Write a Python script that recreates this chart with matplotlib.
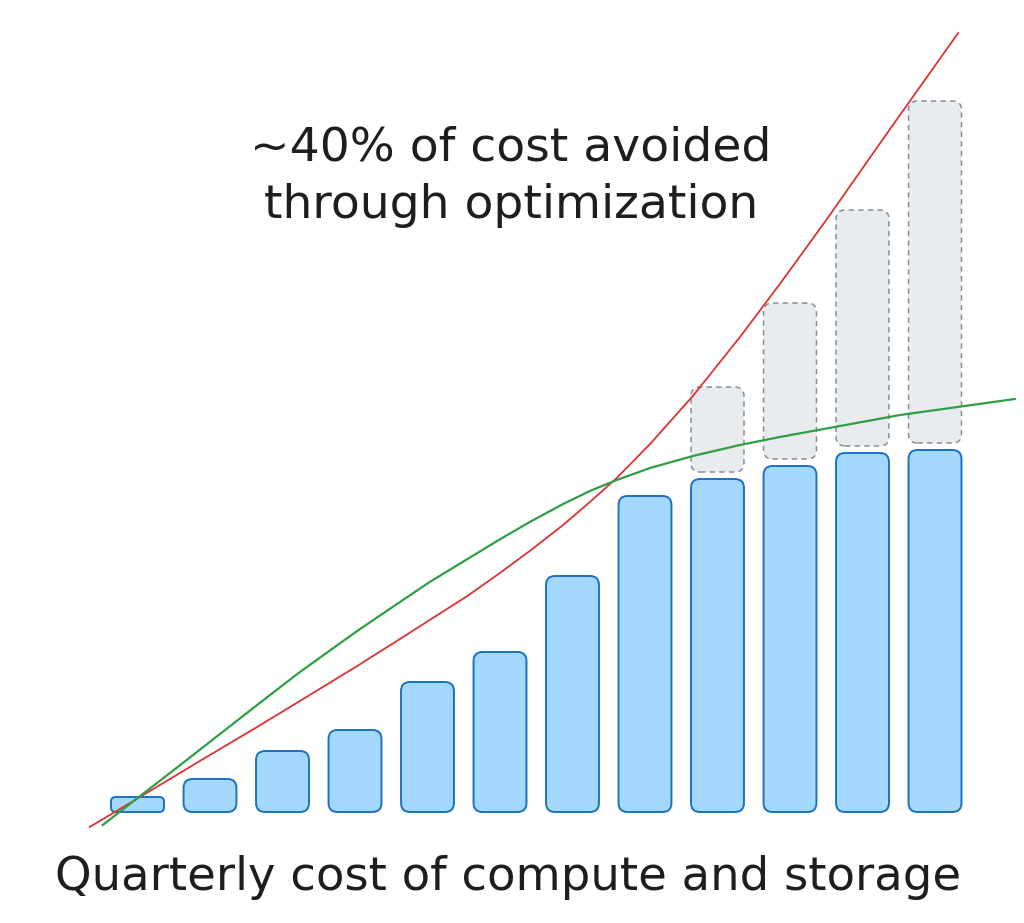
import matplotlib
matplotlib.use("Agg")
import matplotlib.pyplot as plt
from matplotlib.patches import FancyBboxPatch, BoxStyle

# quarterly spend (blue) and cost avoided (grey, last four quarters)
quarters = list(range(12))
spend = [1.5, 3.3, 6.1, 8.2, 13.0, 16.0, 23.6, 31.6, 33.3, 34.6, 35.9, 36.2]
avoided_quarters = [8, 9, 10, 11]
avoided = [8.5, 15.6, 23.6, 34.2]

# projected (unoptimized) trend, red
red_x = [-0.66, 0.08, 0.86, 1.65, 2.24, 3.03, 3.62, 4.03, 4.55, 4.96, 5.41,
         5.87, 6.24, 6.61, 7.07, 7.66, 8.31, 8.86, 9.51, 10.38, 11.32]
red_y = [-1.5, 1.7, 5.1, 8.5, 11.1, 14.6, 17.3, 19.2, 21.6, 23.7, 26.1,
         28.7, 31.0, 33.4, 36.8, 41.6, 47.5, 52.8, 59.3, 68.3, 77.9]

# optimized trend, green
green_x = [-0.48, 0.59, 1.65, 2.24, 3.03, 3.62, 4.03, 4.96, 5.41, 5.87, 6.24,
           6.61, 7.07, 7.66, 8.31, 8.86, 10.52, 12.10]
green_y = [-1.3, 4.7, 10.7, 14.0, 18.1, 21.0, 23.0, 27.1, 29.0, 30.8, 32.1,
           33.2, 34.4, 35.6, 36.7, 37.5, 39.7, 41.3]

title_lines = ["~40% of cost avoided", "through optimization"]
caption = "Quarterly cost of compute and storage"

bar_w = 0.73
gap = 0.7
px_x = 72.5   # pixels per x unit
px_y = 10.0   # pixels per y unit
asp = px_x / px_y

fig = plt.figure(figsize=(10.24, 9.23), dpi=100)
ax = fig.add_axes([0, 0, 1, 1])
ax.set_xlim(-137.5 / px_x, (1024 - 137.5) / px_x)
ax.set_ylim((812 - 923) / px_y, 812 / px_y)
ax.axis("off")


def rbar(x, y0, h, fc, ec, ls="-", lw=1.4):
    r = min(0.124, 0.3 * h / asp)
    p = FancyBboxPatch((x - bar_w / 2, y0), bar_w, h,
                       boxstyle=BoxStyle.Round(pad=0, rounding_size=r),
                       mutation_aspect=asp, fc=fc, ec=ec, ls=ls, lw=lw, zorder=2)
    ax.add_patch(p)


for q, v in zip(quarters, spend):
    rbar(q, 0, v, "#a5d8ff", "#1971c2")

for q, a in zip(avoided_quarters, avoided):
    rbar(q, spend[q] + gap, a, "#e9ecef", "#868e96", ls=(0, (3.5, 2.8)), lw=1.1)

ax.plot(red_x, red_y, color="#e03131", lw=1.3, zorder=3, solid_joinstyle="round")
ax.plot(green_x, green_y, color="#2f9e44", lw=1.6, zorder=3, solid_joinstyle="round")

fig.text(0.499, 1 - 148 / 923, title_lines[0], ha="center", va="center",
         fontsize=34, color="#1e1e1e", family="DejaVu Sans")
fig.text(0.499, 1 - 205 / 923, title_lines[1], ha="center", va="center",
         fontsize=34, color="#1e1e1e", family="DejaVu Sans")
fig.text(0.496, 1 - 877 / 923, caption, ha="center", va="center",
         fontsize=33.5, color="#1e1e1e", family="DejaVu Sans")

fig.savefig("out.png", dpi=100)
